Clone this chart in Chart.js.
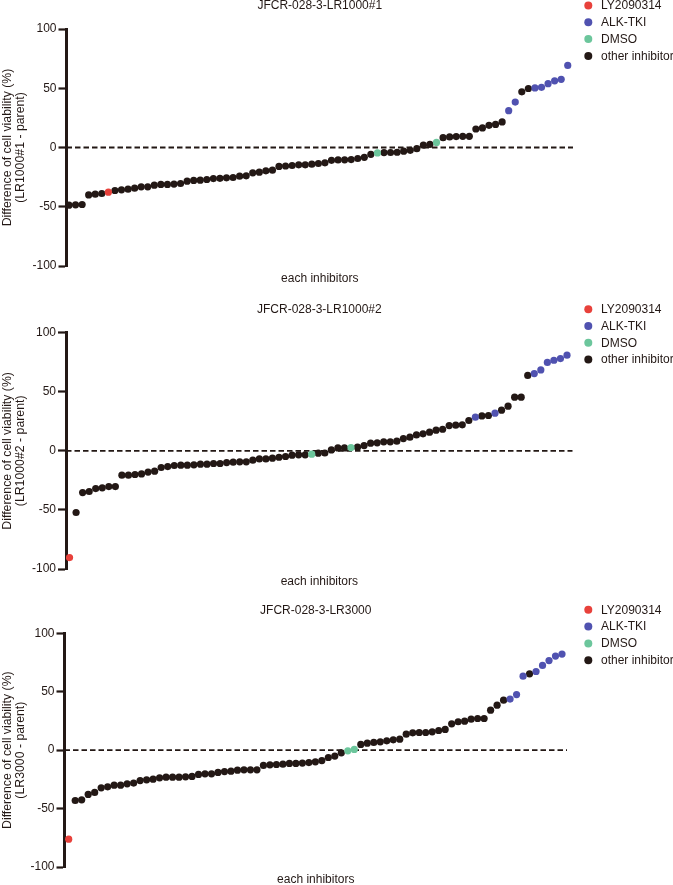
<!DOCTYPE html>
<html>
<head>
<meta charset="utf-8">
<script src="https://cdn.jsdelivr.net/npm/chart.js@4.4.1/dist/chart.umd.min.js"></script>
<style>
  body { margin: 0; width: 673px; height: 885px; overflow: hidden; background: #fff; position: relative; }
  canvas { position: absolute; left: 0; }
</style>
</head>
<body>
<canvas id="c1" width="673" height="295" style="top:0px"></canvas>
<canvas id="c2" width="673" height="295" style="top:300px"></canvas>
<canvas id="c3" width="673" height="300" style="top:595px"></canvas>
<script>
// legend categories
var categories = ['LY2090314', 'ALK-TKI', 'DMSO', 'other inhibitor']

// sorted differences, one value per inhibitor (rank order)
var lr1000_1 = [-48.7, -48.4, -48.1, -40, -39.4, -38.8, -37.7, -36.3, -35.7, -35.2,
    -34.3, -33.2, -33.2, -31.8, -31.2, -31.2, -30.9, -30.4, -28.4, -27.8,
    -27.6, -27, -26.2, -26, -25.6, -25.3, -24.2, -23.9, -21.4, -20.8,
    -19.7, -19.1, -16, -15.6, -15.2, -14.6, -14.6, -14.1, -13.5, -12.9,
    -10.8, -10.5, -10.4, -10.2, -9.3, -8.3, -5.8, -4.6, -4.3, -4.2,
    -4, -3.1, -2.4, -1, 2, 2.7, 4.3, 8.3, 8.9, 9.2,
    9.4, 9.4, 15.6, 16.5, 18.7, 19.5, 21.6, 31.1, 38.3, 47,
    49.8, 50.3, 50.8, 53.9, 56.3, 57.5, 69.3]
var lr1000_2 = [-90.3, -52.2, -35.3, -34.4, -31.9, -31.3, -30.2, -30.2, -20.6, -20.6,
    -20, -19.5, -18, -17.2, -14.1, -13.3, -12.4, -12.1, -12.1, -11.8,
    -11.3, -11.3, -10.7, -10.7, -9.9, -9.6, -9.3, -9.3, -7.9, -6.8,
    -6.8, -6.2, -5.4, -4.8, -3.7, -3.4, -3.4, -2.8, -2, -1.8,
    0.8, 2.5, 2.5, 2.8, 3.1, 4.5, 6.5, 6.8, 7.6, 7.6,
    8.2, 10.4, 11.6, 13.5, 14.4, 15.8, 17.5, 18.3, 21.4, 21.7,
    22, 25.7, 28.5, 29.6, 29.9, 31.9, 34.4, 37.8, 45.4, 45.4,
    63.8, 65.4, 68.5, 74.8, 76.7, 78.1, 81]
var lr3000 = [-76.2, -43.1, -42.5, -37.9, -36.2, -32.2, -31.4, -30, -30, -28.8,
    -28.2, -26, -25.4, -24.8, -23.7, -23.1, -23.1, -23.1, -22.8, -22.5,
    -20.8, -20.3, -20.3, -19.1, -18.3, -18, -17.1, -16.8, -16.8, -16.8,
    -13.1, -12.6, -12.3, -12, -11.4, -11.4, -11.1, -10.6, -10, -8.9,
    -6.3, -5.1, -2.3, -0.6, 0.6, 4.9, 6, 6.6, 7.1, 8,
    8.8, 9.4, 13.7, 14.8, 15.1, 15.1, 15.7, 16.8, 17.7, 22.5,
    24.3, 24.8, 26.5, 27.1, 27.1, 34.2, 38.5, 42.8, 43.7, 47.6,
    63.3, 65.3, 67.3, 72.5, 76.7, 80.5, 82.2]

// ranks that belong to each highlighted group
var lr1000_1_ly = [6]
var lr1000_1_alk = [67, 68, 71, 72, 73, 74, 75, 76]
var lr1000_1_dmso = [47, 56]
var lr1000_2_ly = [0]
var lr1000_2_alk = [62, 65, 71, 72, 73, 74, 75, 76]
var lr1000_2_dmso = [37, 43]
var lr3000_ly = [0]
var lr3000_alk = [68, 69, 70, 72, 73, 74, 75, 76]
var lr3000_dmso = [43, 44]

var yTicks = [-100, -50, 0, 50, 100]

var colors = ['#e8413b', '#5052b0', '#6cc69c', '#231815']
var FONT = '"Liberation Sans", Arial, sans-serif'
var INK = '#231815'

// title + legend drawn above each panel
var decor = {
    id: 'decor',
    afterDraw(chart, args, opts) {
        var ctx = chart.ctx
        var a = chart.chartArea
        ctx.save()
        ctx.font = '12px ' + FONT
        ctx.textBaseline = 'middle'
        ctx.textAlign = 'center'
        ctx.fillStyle = INK
        ctx.fillText(opts.title, (a.left + a.right) / 2, a.top - 23)
        ctx.textAlign = 'left'
        for (var i = 0; i < categories.length; i++) {
            var y = a.top - 23.5 + 16.8 * i
            ctx.fillStyle = colors[i]
            ctx.beginPath()
            ctx.arc(588.3, y, 4, 0, Math.PI * 2)
            ctx.fill()
            ctx.fillStyle = INK
            ctx.fillText(categories[i], 601, y + 0.5)
        }
        ctx.restore()
    }
}

function MakePanel(p) {
    var groups = [[], [], [], []]
    for (var i = 0; i < p.values.length; i++) {
        var g = 3
        if (p.ly.indexOf(i) >= 0) g = 0
        else if (p.alk.indexOf(i) >= 0) g = 1
        else if (p.dmso.indexOf(i) >= 0) g = 2
        groups[g].push({ x: i, y: p.values[i] })
    }
    var datasets = []
    for (var k = 0; k < 4; k++) {
        datasets.push({
            label: categories[k],
            data: groups[k],
            backgroundColor: colors[k],
            borderWidth: 0,
            pointRadius: 3.6,
            pointHoverRadius: 3.6
        })
    }
    // dashed zero line
    datasets.push({
        label: 'zero',
        data: [{ x: p.xMin, y: 0 }, { x: p.xMax, y: 0 }],
        showLine: true,
        borderColor: INK,
        borderWidth: 1.8,
        borderDash: [5.5, 3],
        pointRadius: 0
    })

    var ctx = document.getElementById(p.id).getContext('2d')
    new Chart(ctx, {
        type: 'scatter',
        data: { datasets: datasets },
        options: {
            responsive: false,
            animation: false,
            devicePixelRatio: 1,
            layout: { padding: { top: p.padTop, bottom: p.padBottom, left: 0, right: p.padRight } },
            plugins: {
                legend: { display: false },
                tooltip: { enabled: false },
                decor: { title: p.title }
            },
            scales: {
                x: {
                    type: 'linear',
                    min: p.xMin,
                    max: p.xMax,
                    grid: { display: false },
                    border: { display: false },
                    ticks: { display: false },
                    title: {
                        display: true,
                        text: 'each inhibitors',
                        color: INK,
                        font: { family: FONT, size: 12, lineHeight: 14 / 12 },
                        padding: 0
                    },
                    afterFit: function (s) { s.height = 20 }
                },
                y: {
                    min: -100,
                    max: 100,
                    afterBuildTicks: function (s) { s.ticks = yTicks.map(function (v) { return { value: v } }) },
                    grid: {
                        drawOnChartArea: false,
                        drawTicks: true,
                        tickLength: 8,
                        tickWidth: 2.2,
                        tickColor: INK
                    },
                    border: { display: true, color: INK, width: 3 },
                    ticks: {
                        color: INK,
                        padding: 2,
                        font: { family: FONT, size: 12 }
                    },
                    title: {
                        display: true,
                        text: ['Difference of cell viability (%)', p.yLabel],
                        color: INK,
                        font: { family: FONT, size: 12.3, lineHeight: 13.4 / 12.3 },
                        padding: { top: 0.5, bottom: 0 }
                    },
                    afterFit: function (s) { s.width = p.left }
                }
            }
        },
        plugins: [decor]
    })
}

window.onload = () => {
    MakePanel({ id: 'c1', title: 'JFCR-028-3-LR1000#1', yLabel: '(LR1000#1 - parent)',
        values: lr1000_1, ly: lr1000_1_ly, alk: lr1000_1_alk, dmso: lr1000_1_dmso,
        padTop: 29, padBottom: 9, padRight: 100, left: 66.5, xMin: -0.38, xMax: 76.8 })
    MakePanel({ id: 'c2', title: 'JFCR-028-3-LR1000#2', yLabel: '(LR1000#2 - parent)',
        values: lr1000_2, ly: lr1000_2_ly, alk: lr1000_2_alk, dmso: lr1000_2_dmso,
        padTop: 32.7, padBottom: 6, padRight: 100.3, left: 66, xMin: -0.54, xMax: 76.87 })
    MakePanel({ id: 'c3', title: 'JFCR-028-3-LR3000', yLabel: '(LR3000 - parent)',
        values: lr3000, ly: lr3000_ly, alk: lr3000_alk, dmso: lr3000_dmso,
        padTop: 38.3, padBottom: 8, padRight: 106, left: 64.5, xMin: -0.65, xMax: 76.77 })
}
</script>
</body>
</html>
